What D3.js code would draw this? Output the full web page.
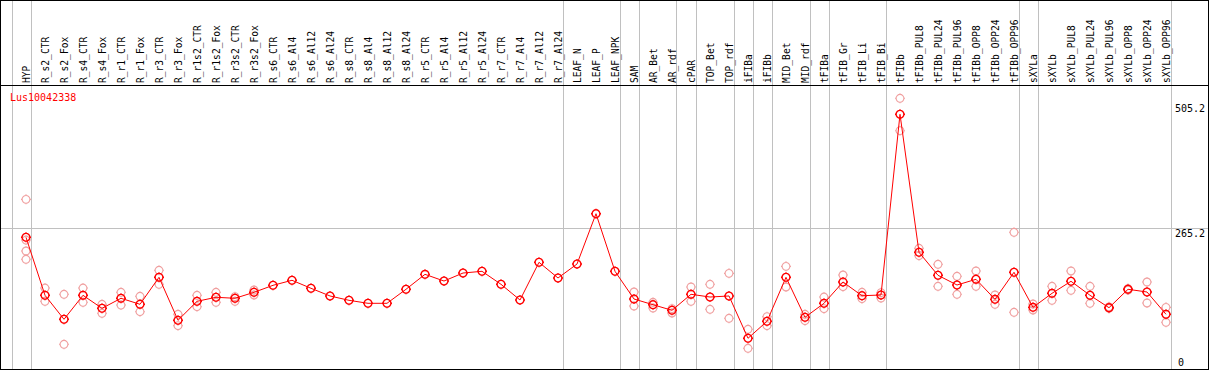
<!DOCTYPE html>
<html><head><meta charset="utf-8">
<script src="https://cdn.jsdelivr.net/npm/d3@7/dist/d3.min.js"></script>
<style>body{margin:0;background:#fff}svg{display:block}text{font-family:"DejaVu Sans Mono",monospace}</style>
</head><body><svg id="c" width="1209" height="370"></svg>
<script>
const categories = ["HYP","R_s2_CTR","R_s2_Fox","R_s4_CTR","R_s4_Fox","R_r1_CTR","R_r1_Fox","R_r3_CTR","R_r3_Fox","R_r1s2_CTR","R_r1s2_Fox","R_r3s2_CTR","R_r3s2_Fox","R_s6_CTR","R_s6_Al4","R_s6_Al12","R_s6_Al24","R_s8_CTR","R_s8_Al4","R_s8_Al12","R_s8_Al24","R_r5_CTR","R_r5_Al4","R_r5_Al12","R_r5_Al24","R_r7_CTR","R_r7_Al4","R_r7_Al12","R_r7_Al24","LEAF_N","LEAF_P","LEAF_NPK","SAM","AR_Bet","AR_rdf","cPAR","TOP_Bet","TOP_rdf","iFIBa","iFIBb","MID_Bet","MID_rdf","tFIBa","tFIB_Gr","tFIB_Li","tFIB_Bi","tFIBb","tFIBb_PUL8","tFIBb_PUL24","tFIBb_PUL96","tFIBb_OPP8","tFIBb_OPP24","tFIBb_OPP96","sXYLa","sXYLb","sXYLb_PUL8","sXYLb_PUL24","sXYLb_PUL96","sXYLb_OPP8","sXYLb_OPP24","sXYLb_OPP96"];
const means = [248,137.1,91.2,137.1,112.2,131.4,119.9,171.5,89.3,125.6,133.3,131.4,142.8,156.2,165.8,150.5,135.8,127.5,121.8,121.8,148.6,177.2,164.4,179.7,183,158.1,128.1,200.2,170.2,196.9,293.1,183,130,119.1,108.4,139,133.8,135.8,54.9,87.4,171.5,95,121.8,162.5,136.3,137.7,483.2,219.3,175.3,156.8,167.7,129.4,181.1,114.1,140.9,163.9,137.1,113.4,148.6,143.4,100.8];
const replicates = [[320.6,242.8,221.8,205.9],[151,125.6],[139,43.4],[151,123.7],[119.9,102.7],[142.8,118.5],[135.2,105.7],[184.9,158.1],[100.8,79],[137.1,115.3],[142.8,123.7],[134.4,125.6],[147.2,137.7],
[],[],[],[],[],[],[],[],[],[],[],[],[],[],[],[],
[],[],[],[143.4,116.6],[123.7,112.8],[111.5,103.3],[153,125.6],[158.1,110.3],[179.1,93.1],[72.1,35.8],[96.2,79],[192.5,153],[100.8,88.5],[133.8,111.5],[175.9,153.5],[142.8,130.6],[142.1,131.9],
[513.8,451.8],[227,212.8],[196.4,154.3],[173.4,139],[183.6,154.3],[137.7,119.9],[257.6,104.6],[120.5,109],[154.3,127.5],[183.6,146.7],[154.3,121.8],[115,112],[150,147],[162.5,122.4],[114.1,85.5]];
const groupSizes = [1,28,3,1,2,1,2,1,1,2,1,3,7,1,7];
const yTicks = [505.2,265.2,0];
const geneName = "Lus10042338";

const W=1209,H=370;
const svg=d3.select("#c");
const x=d3.scaleLinear().domain([0,categories.length-1]).range([26,1166]);
const y=d3.scaleLinear().domain([0,505.2]).range([367,102.8]);
const step=x(1)-x(0);
const sepOff=4.5/step;

const bounds=[-1];let acc=-1;groupSizes.forEach(s=>{acc+=s;bounds.push(acc);});
svg.append("g").selectAll("line").data(bounds).join("line")
 .attr("x1",d=>Math.round(x(d+sepOff))+0.5).attr("x2",d=>Math.round(x(d+sepOff))+0.5)
 .attr("y1",0).attr("y2",H).attr("stroke","#c0c0c0").attr("stroke-width",1);
svg.append("line").attr("x1",0).attr("x2",W).attr("y1",Math.round(y(265.2))+0.5).attr("y2",Math.round(y(265.2))+0.5)
 .attr("stroke","#c0c0c0");
svg.append("rect").attr("x",0.5).attr("y",0.5).attr("width",1208).attr("height",369).attr("fill","none").attr("stroke","#000");
svg.append("line").attr("x1",0).attr("x2",W).attr("y1",85.5).attr("y2",85.5).attr("stroke","#000");

svg.append("g").selectAll("text").data(categories).join("text")
 .attr("transform",(d,i)=>`translate(${x(i)+3.5},83) rotate(-90)`)
 .attr("text-anchor","start").attr("font-size","9.6px").attr("fill","#000").text(d=>d);

svg.append("g").selectAll("text").data(yTicks).join("text")
 .attr("x",d=>d===0?1178:1175).attr("y",d=>d===0?366:y(d)+9)
 .attr("font-size","10px").attr("fill","#000").text(d=>d);

svg.append("text").attr("x",10).attr("y",101).attr("fill","#ff0000").attr("font-size","10px").text(geneName);

function marker(r){
  const t=1.1;
  return `M${-r},0a${r},${r} 0 1,0 ${2*r},0a${r},${r} 0 1,0 ${-2*r},0`+
   `M0,${-r-t}V${-r}M0,${r+t}V${r}M${-r-t},0H${-r}M${r+t},0H${r}`;
}
const reps=[];replicates.forEach((a,i)=>a.forEach(v=>reps.push([i,v])));
svg.append("g").selectAll("path").data(reps).join("path")
 .attr("d",marker(3.9)).attr("transform",d=>`translate(${x(d[0])},${y(d[1])})`)
 .attr("fill","none").attr("stroke","#f0a0a0").attr("stroke-width",1.1);
svg.append("path").datum(means).attr("fill","none").attr("stroke","#ff0000").attr("stroke-width",1)
 .attr("d",d3.line().x((d,i)=>x(i)).y(d=>y(d)));
svg.append("g").selectAll("path").data(means).join("path")
 .attr("d",marker(3.9)).attr("transform",(d,i)=>`translate(${x(i)},${y(d)})`)
 .attr("fill","none").attr("stroke","#ff0000").attr("stroke-width",1.4);
</script></body></html>
